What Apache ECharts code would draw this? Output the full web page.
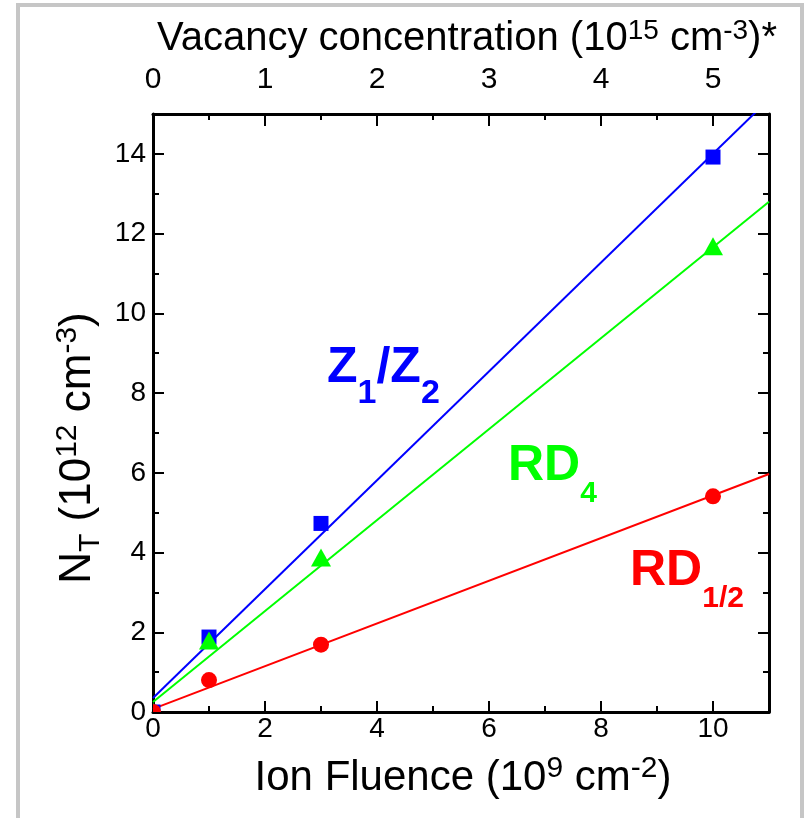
<!DOCTYPE html>
<html><head><meta charset="utf-8">
<script src="https://cdn.jsdelivr.net/npm/echarts@6/dist/echarts.min.js"></script>
<style>html,body{margin:0;padding:0;background:#fff}#c{width:804px;height:818px}</style>
</head><body><div id="c"></div>
<script>
// ---- data ----
const fluence = [0, 1, 3, 10];               // Ion fluence (1e9 cm^-2)
const z1z2 = [0, 1.88, 4.73, 13.92];         // Z1/Z2 trap concentration (1e12 cm^-3)
const rd4 = [0, 1.78, 3.86, 11.67];          // RD4
const rd12 = [0, 0.80, 1.69, 5.41];          // RD1/2
const fitX = [0, 11];                        // linear-fit end points (fluence)
const z1z2Fit = [0.35, 15.37];
const rd4Fit = [0.25, 12.80];
const rd12Fit = [0.08, 5.97];
const fluenceRange = [0, 11];
const vacancyRange = [0, 5.5];
const ntRange = [0, 15];

const FONT = 'Liberation Sans, Arial, sans-serif';
const BLUE = '#0000ff', GREEN = '#00ff00', RED = '#ff0000';

const chart = echarts.init(document.getElementById('c'), null, {renderer: 'canvas'});

const lineStyle = {color: '#000', width: 3};
const tickStyle = {color: '#000', width: 2};
function baseAxis(pos, range, interval, tickLen, withLine, withLabel, labelOpt) {
  return {
    type: 'value', position: pos, min: range[0], max: range[1], interval: interval,
    axisLine: {show: withLine, onZero: false, lineStyle: lineStyle},
    axisTick: {show: true, inside: true, length: tickLen, lineStyle: tickStyle},
    axisLabel: Object.assign({show: withLabel, color: '#000', fontFamily: FONT, showMaxLabel: false}, labelOpt || {}),
    splitLine: {show: false}, minorTick: {show: false}
  };
}

function markerSeries(name, ys, color, shape) {
  return {
    type: 'custom', name: name, xAxisIndex: 0, yAxisIndex: 0, clip: true, z: 5, silent: true,
    data: fluence.map((x, i) => [x, ys[i]]),
    renderItem: function (params, api) {
      const p = api.coord([api.value(0), api.value(1)]);
      if (shape === 'square') return {type: 'rect', shape: {x: p[0] - 7.5, y: p[1] - 7.5, width: 15, height: 15}, style: {fill: color}};
      if (shape === 'triangle') return {type: 'polygon', shape: {points: [[p[0], p[1] - 9.5], [p[0] + 10, p[1] + 8.5], [p[0] - 10, p[1] + 8.5]]}, style: {fill: color}};
      return {type: 'circle', shape: {cx: p[0], cy: p[1], r: 8}, style: {fill: color}};
    }
  };
}
function fitSeries(name, ys, color) {
  return {
    type: 'line', name: name, xAxisIndex: 0, yAxisIndex: 0, clip: true, z: 3, silent: true,
    symbol: 'none', showSymbol: false,
    data: fitX.map((x, i) => [x, ys[i]]),
    lineStyle: {color: color, width: 2}
  };
}

const supTok = (size, pad) => ({fontSize: size, fontFamily: FONT, fill: '#000', verticalAlign: 'top', padding: [pad, 0, 0, 0]});

const option = {
  animation: false,
  backgroundColor: '#fff',
  grid: {left: 153, top: 114, right: 35, bottom: 106, containLabel: false},
  xAxis: [
    baseAxis('bottom', fluenceRange, 2, 11, true, true, {fontSize: 28, margin: 3}),
    baseAxis('bottom', fluenceRange, 1, 6, false, false),
    baseAxis('top', vacancyRange, 1, 12, true, true, {fontSize: 30, margin: 19}),
    baseAxis('top', vacancyRange, 0.5, 6, false, false)
  ],
  yAxis: [
    baseAxis('left', ntRange, 2, 11, true, true, {fontSize: 28, margin: 7}),
    baseAxis('left', ntRange, 1, 6, false, false),
    baseAxis('right', ntRange, 2, 11, true, false),
    baseAxis('right', ntRange, 1, 6, false, false)
  ],
  series: [
    fitSeries('Z1/Z2 fit', z1z2Fit, BLUE),
    fitSeries('RD4 fit', rd4Fit, GREEN),
    fitSeries('RD1/2 fit', rd12Fit, RED),
    markerSeries('Z1/Z2', z1z2, BLUE, 'square'),
    markerSeries('RD4', rd4, GREEN, 'triangle'),
    markerSeries('RD1/2', rd12, RED, 'circle')
  ],
  graphic: [
    {type: 'rect', z: 100, silent: true, shape: {x: 18, y: 5, width: 784, height: 830},
     style: {fill: 'none', stroke: '#c6c6c6', lineWidth: 4}},
    {type: 'text', x: 467, y: 11, silent: true, style: {
      text: '{m|Vacancy concentration (10}{sup|15}{m| cm}{sup|-3}{m|)*}',
      align: 'center', verticalAlign: 'top', textAlign: 'center', textVerticalAlign: 'top',
      rich: {m: {fontSize: 40, fontFamily: FONT, fill: '#000', lineHeight: 48, verticalAlign: 'bottom'}, sup: supTok(28, 6)}
    }},
    {type: 'text', x: 463, y: 749, silent: true, style: {
      text: '{m|Ion Fluence (10}{sup|9}{m| cm}{sup|-2}{m|)}',
      align: 'center', verticalAlign: 'top', textAlign: 'center', textVerticalAlign: 'top',
      rich: {m: {fontSize: 42, fontFamily: FONT, fill: '#000', lineHeight: 50, verticalAlign: 'bottom'}, sup: supTok(30, 5)}
    }},
    {type: 'text', x: 78, y: 448, rotation: Math.PI / 2, silent: true, style: {
      text: '{m|N}{sub|T}{m| (10}{sup|12}{m| cm}{sup|-3}{m|)}',
      align: 'center', verticalAlign: 'middle', textAlign: 'center', textVerticalAlign: 'middle',
      rich: {
        m: {fontSize: 44, fontFamily: FONT, fill: '#000', lineHeight: 56, verticalAlign: 'middle'},
        sup: supTok(30, 3),
        sub: {fontSize: 30, fontFamily: FONT, fill: '#000', lineHeight: 56, verticalAlign: 'bottom'}
      }
    }},
    {type: 'text', x: 327, y: 343, silent: true, style: {
      text: '{m|Z}{s|1}{m|/Z}{s|2}', align: 'left', verticalAlign: 'top',
      rich: {m: {fontSize: 50, fontWeight: 'bold', fontFamily: FONT, fill: BLUE, lineHeight: 50, verticalAlign: 'top'},
             s: {fontSize: 34, fontWeight: 'bold', fontFamily: FONT, fill: BLUE, lineHeight: 68, verticalAlign: 'bottom'}}
    }},
    {type: 'text', x: 508, y: 441, silent: true, style: {
      text: '{m|RD}{s|4}', align: 'left', verticalAlign: 'top',
      rich: {m: {fontSize: 50, fontWeight: 'bold', fontFamily: FONT, fill: GREEN, lineHeight: 50, verticalAlign: 'top'},
             s: {fontSize: 30, fontWeight: 'bold', fontFamily: FONT, fill: GREEN, lineHeight: 68, verticalAlign: 'bottom'}}
    }},
    {type: 'text', x: 630, y: 546, silent: true, style: {
      text: '{m|RD}{s|1/2}', align: 'left', verticalAlign: 'top',
      rich: {m: {fontSize: 50, fontWeight: 'bold', fontFamily: FONT, fill: RED, lineHeight: 50, verticalAlign: 'top'},
             s: {fontSize: 30, fontWeight: 'bold', fontFamily: FONT, fill: RED, lineHeight: 68, verticalAlign: 'bottom'}}
    }}
  ]
};
chart.setOption(option);
</script>
</body></html>
